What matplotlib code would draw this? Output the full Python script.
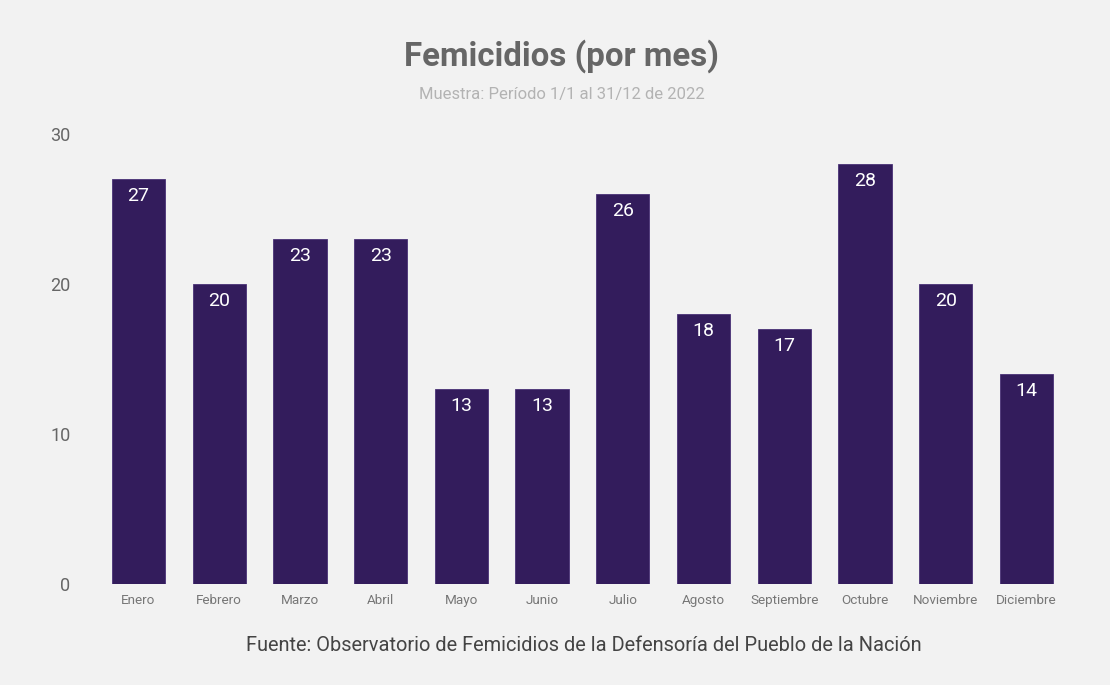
import matplotlib.pyplot as plt

plt.rcParams['font.family'] = ['Roboto', 'DejaVu Sans']

meses = ['Enero', 'Febrero', 'Marzo', 'Abril', 'Mayo', 'Junio', 'Julio',
         'Agosto', 'Septiembre', 'Octubre', 'Noviembre', 'Diciembre']
femicidios = [27, 20, 23, 23, 13, 13, 26, 18, 17, 28, 20, 14]
yticks = [0, 10, 20, 30]

bg = '#f2f2f2'
bar_color = '#331c5c'

fig = plt.figure(figsize=(11.1, 6.85), dpi=100, facecolor=bg)
ax = fig.add_axes([0.0811, 0.1474, 0.8872, 0.657])
ax.set_facecolor(bg)

x = list(range(len(meses)))
bars = ax.bar(x, femicidios, width=0.66, color=bar_color,
              edgecolor='#4a3277', linewidth=0.6)

# etiquetas dentro de las barras
for xi, v in zip(x, femicidios):
    ax.text(xi, v - 0.55, str(v), ha='center', va='top',
            color='white', fontsize=14)

ax.set_xlim(-0.6, 11.6)
ax.set_ylim(0, 30)
ax.set_xticks(x)
ax.set_xticklabels(meses, fontsize=9.7, color='#777777')
ax.tick_params(axis='x', length=0, pad=7)
ax.set_yticks(yticks)
ax.set_yticklabels([str(t) for t in yticks], fontsize=13, color='#666666')
ax.tick_params(axis='y', length=0, pad=14)
for s in ax.spines.values():
    s.set_visible(False)

fig.text(0.5059, 0.918, 'Femicidios (por mes)', ha='center', va='center',
         fontsize=23.8, fontweight='bold', color='#666666')
fig.text(0.5059, 0.862, 'Muestra: Período 1/1 al 31/12 de 2022', ha='center',
         va='center', fontsize=12, color='#b3b3b3')
fig.text(0.5257, 0.058, 'Fuente: Observatorio de Femicidios de la Defensoría del Pueblo de la Nación',
         ha='center', va='center', fontsize=14.4, color='#444444')

fig.savefig('out.png', dpi=100, facecolor=bg)
